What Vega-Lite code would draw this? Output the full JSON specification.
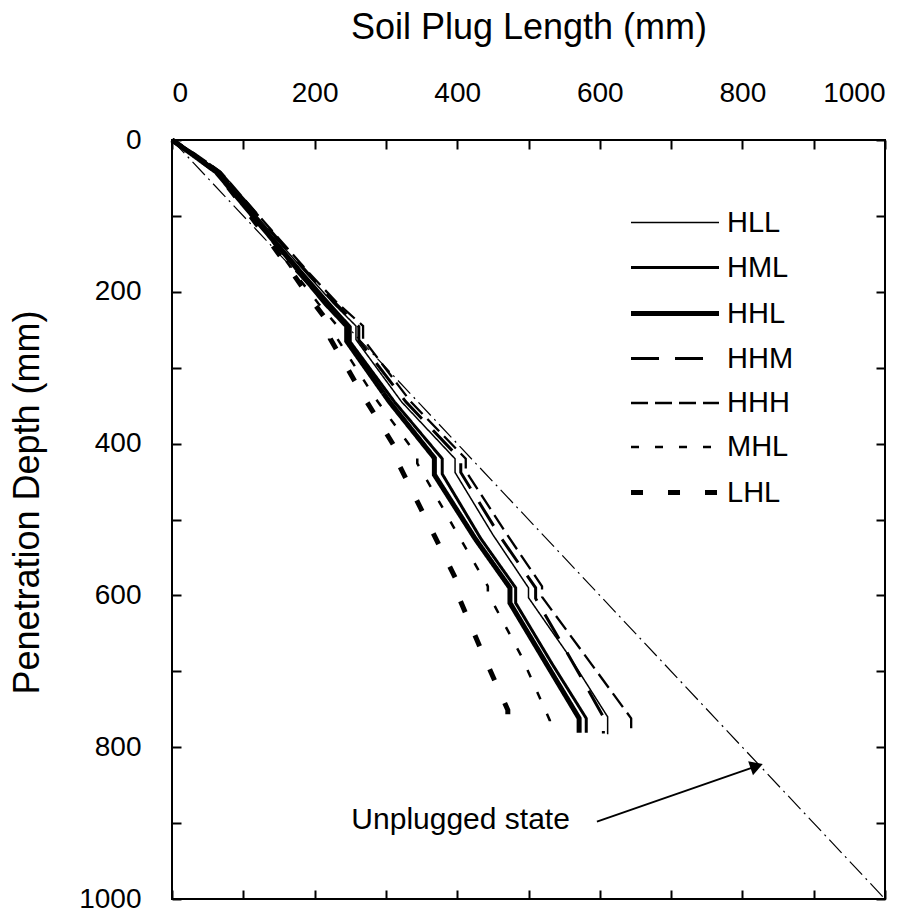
{
  "$schema": "https://vega.github.io/schema/vega-lite/v6.json",
  "width": 713,
  "height": 759,
  "autosize": {"type": "none"},
  "padding": {"left": 172, "top": 140, "right": 34, "bottom": 16},
  "background": "white",
  "datasets": {
    "curves": [
      {"series": "HLL", "v": 0, "d": 0}, {"series": "HLL", "v": 33, "d": 20}, {"series": "HLL", "v": 66, "d": 42}, {"series": "HLL", "v": 105, "d": 85}, {"series": "HLL", "v": 146, "d": 130}, {"series": "HLL", "v": 188, "d": 175}, {"series": "HLL", "v": 226, "d": 215}, {"series": "HLL", "v": 258, "d": 245}, {"series": "HLL", "v": 258, "d": 263}, {"series": "HLL", "v": 322, "d": 345}, {"series": "HLL", "v": 397, "d": 420}, {"series": "HLL", "v": 397, "d": 438}, {"series": "HLL", "v": 450, "d": 520}, {"series": "HLL", "v": 500, "d": 590}, {"series": "HLL", "v": 500, "d": 603}, {"series": "HLL", "v": 557, "d": 680}, {"series": "HLL", "v": 611, "d": 760}, {"series": "HLL", "v": 611, "d": 783},
      {"series": "HML", "v": 0, "d": 0}, {"series": "HML", "v": 32, "d": 20}, {"series": "HML", "v": 64, "d": 42}, {"series": "HML", "v": 102, "d": 85}, {"series": "HML", "v": 142, "d": 130}, {"series": "HML", "v": 183, "d": 175}, {"series": "HML", "v": 220, "d": 215}, {"series": "HML", "v": 250, "d": 246}, {"series": "HML", "v": 250, "d": 266}, {"series": "HML", "v": 312, "d": 345}, {"series": "HML", "v": 379, "d": 420}, {"series": "HML", "v": 379, "d": 440}, {"series": "HML", "v": 433, "d": 525}, {"series": "HML", "v": 482, "d": 590}, {"series": "HML", "v": 482, "d": 610}, {"series": "HML", "v": 533, "d": 690}, {"series": "HML", "v": 581, "d": 762}, {"series": "HML", "v": 581, "d": 781},
      {"series": "HHL", "v": 0, "d": 0}, {"series": "HHL", "v": 30, "d": 20}, {"series": "HHL", "v": 62, "d": 42}, {"series": "HHL", "v": 100, "d": 85}, {"series": "HHL", "v": 140, "d": 130}, {"series": "HHL", "v": 180, "d": 175}, {"series": "HHL", "v": 215, "d": 215}, {"series": "HHL", "v": 245, "d": 245}, {"series": "HHL", "v": 245, "d": 265}, {"series": "HHL", "v": 305, "d": 345}, {"series": "HHL", "v": 368, "d": 419}, {"series": "HHL", "v": 368, "d": 441}, {"series": "HHL", "v": 425, "d": 525}, {"series": "HHL", "v": 474, "d": 590}, {"series": "HHL", "v": 474, "d": 610}, {"series": "HHL", "v": 525, "d": 690}, {"series": "HHL", "v": 571, "d": 762}, {"series": "HHL", "v": 571, "d": 781},
      {"series": "HHM", "v": 0, "d": 0}, {"series": "HHM", "v": 34, "d": 20}, {"series": "HHM", "v": 67, "d": 42}, {"series": "HHM", "v": 107, "d": 85}, {"series": "HHM", "v": 148, "d": 130}, {"series": "HHM", "v": 190, "d": 175}, {"series": "HHM", "v": 229, "d": 215}, {"series": "HHM", "v": 262, "d": 246}, {"series": "HHM", "v": 262, "d": 264}, {"series": "HHM", "v": 328, "d": 345}, {"series": "HHM", "v": 405, "d": 421}, {"series": "HHM", "v": 405, "d": 438}, {"series": "HHM", "v": 462, "d": 525}, {"series": "HHM", "v": 510, "d": 590}, {"series": "HHM", "v": 510, "d": 604}, {"series": "HHM", "v": 560, "d": 685}, {"series": "HHM", "v": 605, "d": 760}, {"series": "HHM", "v": 605, "d": 782},
      {"series": "HHH", "v": 0, "d": 0}, {"series": "HHH", "v": 35, "d": 20}, {"series": "HHH", "v": 68, "d": 42}, {"series": "HHH", "v": 108, "d": 85}, {"series": "HHH", "v": 150, "d": 130}, {"series": "HHH", "v": 192, "d": 175}, {"series": "HHH", "v": 232, "d": 215}, {"series": "HHH", "v": 268, "d": 245}, {"series": "HHH", "v": 268, "d": 262}, {"series": "HHH", "v": 335, "d": 345}, {"series": "HHH", "v": 412, "d": 420}, {"series": "HHH", "v": 412, "d": 436}, {"series": "HHH", "v": 470, "d": 520}, {"series": "HHH", "v": 519, "d": 588}, {"series": "HHH", "v": 519, "d": 602}, {"series": "HHH", "v": 580, "d": 680}, {"series": "HHH", "v": 644, "d": 762}, {"series": "HHH", "v": 644, "d": 780},
      {"series": "MHL", "v": 0, "d": 0}, {"series": "MHL", "v": 32, "d": 20}, {"series": "MHL", "v": 63, "d": 42}, {"series": "MHL", "v": 100, "d": 85}, {"series": "MHL", "v": 138, "d": 130}, {"series": "MHL", "v": 172, "d": 175}, {"series": "MHL", "v": 205, "d": 215}, {"series": "MHL", "v": 232, "d": 245}, {"series": "MHL", "v": 232, "d": 262}, {"series": "MHL", "v": 285, "d": 340}, {"series": "MHL", "v": 344, "d": 416}, {"series": "MHL", "v": 344, "d": 426}, {"series": "MHL", "v": 395, "d": 510}, {"series": "MHL", "v": 443, "d": 588}, {"series": "MHL", "v": 443, "d": 597}, {"series": "MHL", "v": 490, "d": 680}, {"series": "MHL", "v": 530, "d": 765}, {"series": "MHL", "v": 530, "d": 776},
      {"series": "LHL", "v": 0, "d": 0}, {"series": "LHL", "v": 31, "d": 20}, {"series": "LHL", "v": 62, "d": 42}, {"series": "LHL", "v": 98, "d": 85}, {"series": "LHL", "v": 134, "d": 130}, {"series": "LHL", "v": 165, "d": 170}, {"series": "LHL", "v": 195, "d": 210}, {"series": "LHL", "v": 222, "d": 244}, {"series": "LHL", "v": 222, "d": 262}, {"series": "LHL", "v": 270, "d": 340}, {"series": "LHL", "v": 320, "d": 416}, {"series": "LHL", "v": 320, "d": 431}, {"series": "LHL", "v": 362, "d": 510}, {"series": "LHL", "v": 399, "d": 580}, {"series": "LHL", "v": 399, "d": 595}, {"series": "LHL", "v": 435, "d": 675}, {"series": "LHL", "v": 471, "d": 751}, {"series": "LHL", "v": 471, "d": 768}
    ],
    "unplugged": [{"v": 0, "d": 0}, {"v": 1000, "d": 1000}],
    "note": [{"label": "Unplugged state", "tv": 558, "td": 896, "v1": 596, "d1": 898, "v2": 820, "d2": 825}]
  },
  "layer": [
    {
      "data": {"name": "unplugged"},
      "mark": {"type": "line", "color": "black", "strokeWidth": 1.2, "strokeDash": [18, 5, 2, 5]},
      "encoding": {
        "x": {"field": "v", "type": "quantitative", "scale": {"domain": [0, 1000], "nice": false}, "axis": {"orient": "bottom", "values": [0,100,200,300,400,500,600,700,800,900,1000], "labels": false, "tickSize": -9, "title": null}},
        "y": {"field": "d", "type": "quantitative", "scale": {"domain": [0, 1000], "reverse": true, "nice": false}, "axis": {"orient": "right", "values": [0,100,200,300,400,500,600,700,800,900,1000], "labels": false, "tickSize": -9, "title": null}}
      }
    },
    {
      "data": {"name": "curves"},
      "mark": {"type": "line", "color": "black", "strokeCap": "butt"},
      "encoding": {
        "x": {"field": "v", "type": "quantitative", "axis": {"orient": "top", "values": [0,100,200,300,400,500,600,700,800,900,1000], "format": "d", "labelExpr": "datum.value % 200 === 0 ? datum.label : ''", "tickSize": -9, "labelPadding": 42, "labelFontSize": 28, "title": "Soil Plug Length  (mm)", "titleFontSize": 36, "titleBaseline": "alphabetic", "titleY": -102}},
        "y": {"field": "d", "type": "quantitative", "axis": {"orient": "left", "values": [0,100,200,300,400,500,600,700,800,900,1000], "format": "d", "labelExpr": "datum.value % 200 === 0 ? datum.label : ''", "tickSize": -9, "labelPadding": 40, "labelFontSize": 28, "title": "Penetration Depth (mm)", "titleFontSize": 36, "titleBaseline": "alphabetic", "titleX": -134, "titleY": 362}},
        "order": {"field": "d", "type": "quantitative"},
        "detail": {"field": "series"},
        "strokeDash": {"field": "series", "type": "nominal", "sort": ["HLL", "HML", "HHL", "HHM", "HHH", "MHL", "LHL"], "scale": {"domain": ["HLL", "HML", "HHL", "HHM", "HHH", "MHL", "LHL"], "range": [[1, 0], [1, 0], [1, 0], [28, 16], [17, 7], [8, 16], [12, 25]]}, "legend": {"title": null}},
        "strokeWidth": {"field": "series", "type": "nominal", "sort": ["HLL", "HML", "HHL", "HHM", "HHH", "MHL", "LHL"], "scale": {"type": "ordinal", "domain": ["HLL", "HML", "HHL", "HHM", "HHH", "MHL", "LHL"], "range": [1.5, 3, 5, 3, 2.3, 2.5, 5]}, "legend": {"title": null}}
      }
    },
    {
      "data": {"name": "note"},
      "mark": {"type": "rule", "color": "black", "strokeWidth": 2},
      "encoding": {
        "x": {"field": "v1", "type": "quantitative", "axis": null},
        "y": {"field": "d1", "type": "quantitative", "axis": null},
        "x2": {"field": "v2"},
        "y2": {"field": "d2"}
      }
    },
    {
      "data": {"name": "note"},
      "mark": {"type": "point", "shape": "triangle-up", "filled": true, "color": "black", "opacity": 1, "size": 220, "angle": 71},
      "encoding": {
        "x": {"field": "v2", "type": "quantitative", "axis": null},
        "y": {"field": "d2", "type": "quantitative", "axis": null}
      }
    },
    {
      "data": {"name": "note"},
      "mark": {"type": "text", "align": "right", "baseline": "middle", "fontSize": 30, "font": "Liberation Sans", "color": "black"},
      "encoding": {
        "x": {"field": "tv", "type": "quantitative", "axis": null},
        "y": {"field": "td", "type": "quantitative", "axis": null},
        "text": {"field": "label"}
      }
    }
  ],
  "resolve": {"axis": {"x": "independent", "y": "independent"}},
  "config": {
    "view": {"stroke": "black", "strokeWidth": 2},
    "font": "Liberation Sans",
    "axis": {"grid": false, "domain": false, "tickColor": "black", "tickWidth": 2, "labelColor": "black", "titleColor": "black", "labelFont": "Liberation Sans", "titleFont": "Liberation Sans", "titleFontWeight": "normal"},
    "legend": {"orient": "none", "legendX": 485.5, "legendY": 67, "padding": 0, "symbolType": "M-3,0H3", "symbolSize": 860, "symbolStrokeColor": "black", "labelFontSize": 29, "labelFont": "Liberation Sans", "labelColor": "black", "rowPadding": 13, "labelOffset": 34.5}
  }
}
